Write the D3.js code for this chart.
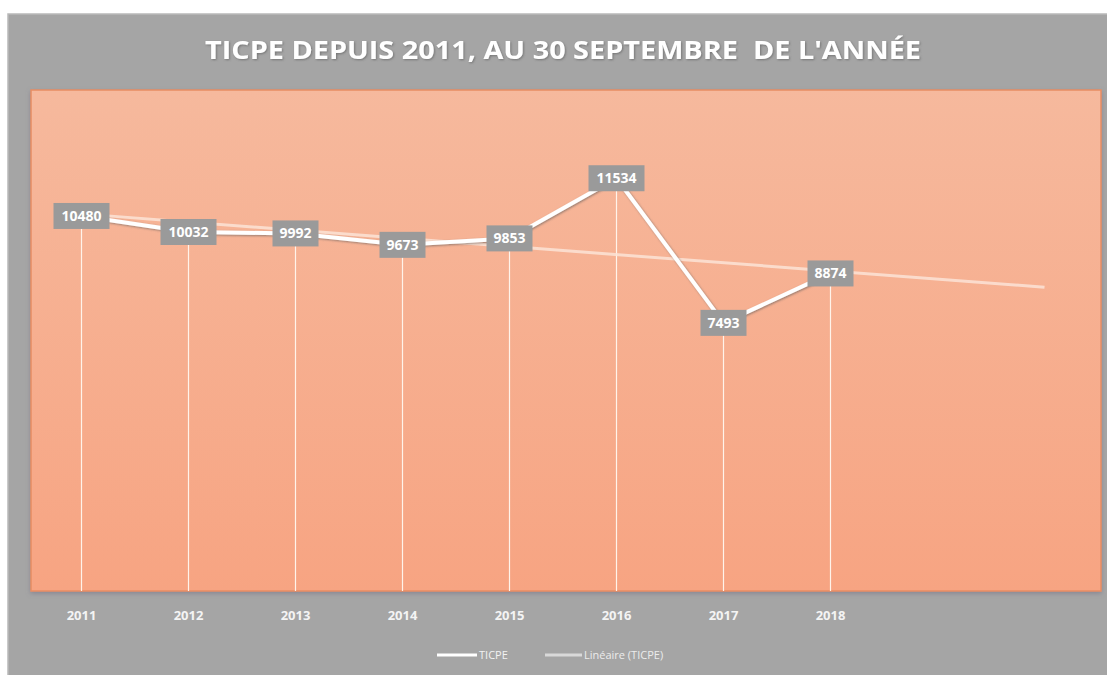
<!DOCTYPE html>
<meta charset="utf-8">
<style>
  body { margin: 0; background: #fff; overflow: hidden; }
  text { font-family: "Open Sans", "DejaVu Sans", sans-serif; }
</style>
<div id="chart_div"></div>

<script src="https://d3js.org/d3.v7.min.js"></script>

<script>

// data
let years = ["2011", "2012", "2013", "2014", "2015", "2016", "2017", "2018"];
let ticpe = [10480, 10032, 9992, 9673, 9853, 11534, 7493, 8874];
// Excel's linear trend is drawn two periods past the last year
let forecast_periods = ["2019", "2020"];
let chart_title = "TICPE DEPUIS 2011, AU 30 SEPTEMBRE  DE L'ANNÉE";
let legend_labels = ["TICPE", "Linéaire (TICPE)"];

let width = 1107, height = 675;
let panel = {x: 8, y: 14, w: 1104, h: 666};
let plot = {x: 31, y: 90, w: 1070, h: 501};

let svg = d3.select("#chart_div")
  .append("svg")
    .attr("width", width)
    .attr("height", height);

let defs = svg.append("defs");
let grad = defs.append("linearGradient")
    .attr("id", "plot_grad")
    .attr("x1", 0).attr("y1", 0).attr("x2", 0).attr("y2", 1);
grad.append("stop").attr("offset", "0%").attr("stop-color", "#f6b99d");
grad.append("stop").attr("offset", "100%").attr("stop-color", "#f7a482");

let shadow = defs.append("filter").attr("id", "shadow")
    .attr("x", "-5%").attr("y", "-5%").attr("width", "110%").attr("height", "115%");
shadow.append("feDropShadow")
    .attr("dx", 0).attr("dy", 2).attr("stdDeviation", 2)
    .attr("flood-color", "#6f6a80").attr("flood-opacity", 0.5);

let txt_shadow = defs.append("filter").attr("id", "txt_shadow");
txt_shadow.append("feDropShadow")
    .attr("dx", 1).attr("dy", 1).attr("stdDeviation", 0.8)
    .attr("flood-color", "#555").attr("flood-opacity", 0.6);

// gray chart panel
svg.append("rect")
    .attr("x", panel.x).attr("y", panel.y)
    .attr("width", panel.w).attr("height", panel.h)
    .attr("fill", "#a5a5a5")
    .attr("stroke", "#b9b9b9")
    .attr("stroke-width", 1.5);

// title
svg.append("text")
    .attr("x", 563)
    .attr("y", 59)
    .attr("text-anchor", "middle")
    .attr("fill", "#ffffff")
    .attr("font-size", 25)
    .attr("font-weight", 700)
    .attr("textLength", 716)
    .attr("lengthAdjust", "spacingAndGlyphs")
    .attr("filter", "url(#txt_shadow)")
    .style("white-space", "pre")
    .text(chart_title);

// plot area
svg.append("rect")
    .attr("x", plot.x).attr("y", plot.y)
    .attr("width", plot.w).attr("height", plot.h)
    .attr("fill", "url(#plot_grad)")
    .attr("stroke", "#e88d63")
    .attr("stroke-width", 1.5)
    .attr("filter", "url(#shadow)");

// scales
let all_periods = years.concat(forecast_periods);
let x = d3.scaleBand()
    .domain(all_periods)
    .range([plot.x - 3, plot.x + plot.w - 3]);
let y = d3.scaleLinear()
    .domain([0, 14000])
    .range([plot.y + plot.h, plot.y]);
let cx = d => x(d) + x.bandwidth() / 2;

let g = svg.append("g");

// drop lines
g.selectAll(".drop")
  .data(years)
  .enter()
  .append("line")
    .attr("class", "drop")
    .attr("x1", cx).attr("x2", cx)
    .attr("y1", (d, i) => y(ticpe[i]))
    .attr("y2", y(0))
    .attr("stroke", "#fff3ea")
    .attr("stroke-width", 1.2);

// linear trend (least squares over 1..n, extended)
let mx = d3.mean(ticpe, (d, i) => i + 1);
let my = d3.mean(ticpe);
let slope = d3.sum(ticpe, (d, i) => (i + 1 - mx) * (d - my)) / d3.sum(ticpe, (d, i) => (i + 1 - mx) ** 2);
let trend = d => my + slope * (d - mx);

g.append("line")
    .attr("x1", cx(all_periods[0]))
    .attr("y1", y(trend(1)))
    .attr("x2", cx(all_periods[all_periods.length - 1]))
    .attr("y2", y(trend(all_periods.length)))
    .attr("stroke", "#fbe3d6")
    .attr("stroke-opacity", 0.85)
    .attr("stroke-width", 3);

// main line
let line = d3.line()
    .x((d, i) => cx(years[i]))
    .y(d => y(d));

g.append("path")
    .datum(ticpe)
    .attr("d", line)
    .attr("fill", "none")
    .attr("stroke", "#ffffff")
    .attr("stroke-width", 4)
    .attr("stroke-linejoin", "round")
    .attr("filter", "url(#txt_shadow)");

// data labels
let labels = g.selectAll(".lbl")
  .data(ticpe)
  .enter()
  .append("g")
    .attr("class", "lbl")
    .attr("transform", (d, i) => "translate(" + cx(years[i]) + "," + y(d) + ")");

labels.append("rect")
    .attr("x", d => -(String(d).length * 10 + 6) / 2)
    .attr("y", -13)
    .attr("width", d => String(d).length * 10 + 6)
    .attr("height", 26)
    .attr("fill", "#9a9a9a");

labels.append("text")
    .attr("text-anchor", "middle")
    .attr("dy", 5)
    .attr("fill", "#ffffff")
    .attr("font-size", 14)
    .attr("font-weight", 700)
    .text(d => d);

// x axis labels
let x_axis = svg.append("g")
    .attr("transform", "translate(0," + 617 + ")")
    .call(d3.axisBottom(x).tickSize(0).tickFormat(d => years.includes(d) ? d : ""));
x_axis.select(".domain").remove();
x_axis.selectAll("text")
    .attr("fill", "#f4f4f4")
    .attr("font-size", 13)
    .attr("font-weight", 700)
    .attr("dy", 0)
    .style("font-family", "\"Open Sans\", sans-serif");

// legend
let legend = svg.append("g").attr("transform", "translate(437,655)");
legend.append("line")
    .attr("x1", 0).attr("x2", 40).attr("y1", 0).attr("y2", 0)
    .attr("stroke", "#ffffff").attr("stroke-width", 3);
legend.append("text")
    .attr("x", 42).attr("y", 4)
    .attr("fill", "#f2f2f2").attr("font-size", 11)
    .text(legend_labels[0]);
legend.append("line")
    .attr("x1", 108).attr("x2", 145).attr("y1", 0).attr("y2", 0)
    .attr("stroke", "#d9d9d9").attr("stroke-width", 3);
legend.append("text")
    .attr("x", 147).attr("y", 4)
    .attr("fill", "#ececec").attr("font-size", 11)
    .text(legend_labels[1]);

</script>
